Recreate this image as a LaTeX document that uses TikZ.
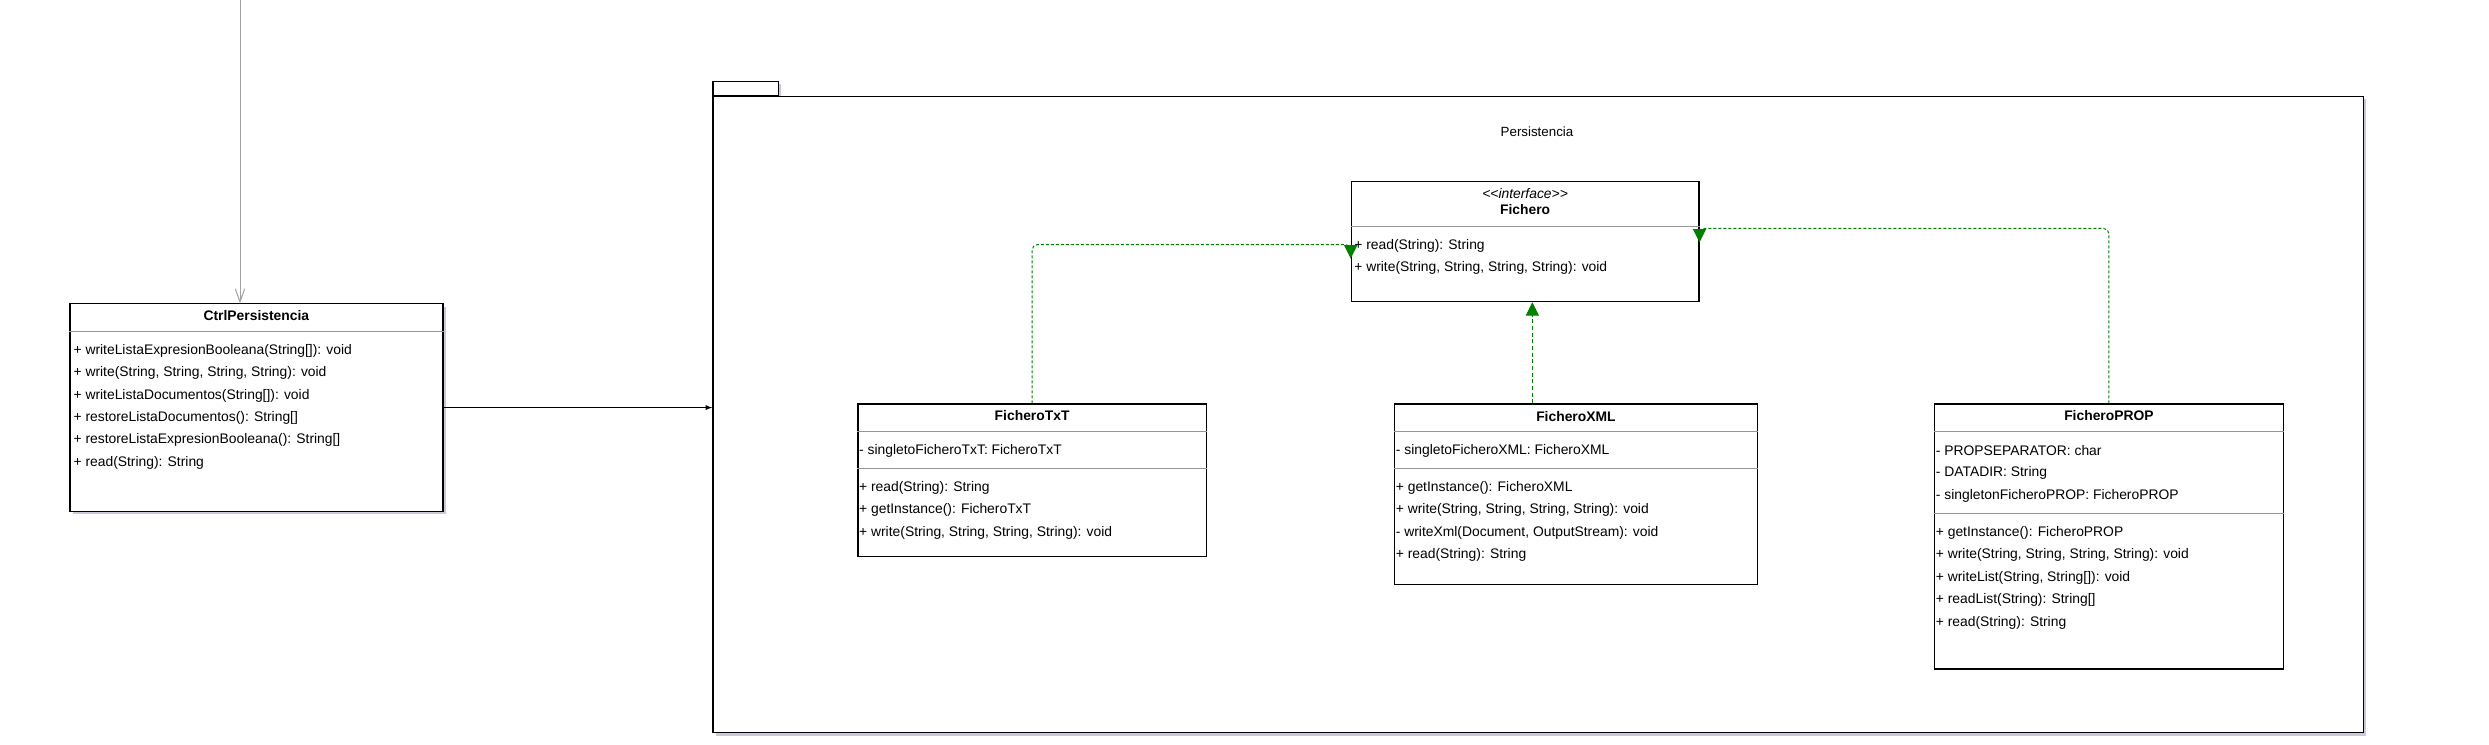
\documentclass[tikz,border=0pt]{standalone}
\usepackage{fontspec}
\setmainfont{Liberation Sans}
\usetikzlibrary{arrows.meta,shadows}

\definecolor{implgreen}{RGB}{0,128,0}
\definecolor{sepgrey}{RGB}{150,150,150}
\definecolor{assocgrey}{RGB}{160,160,160}
\definecolor{shadowblue}{RGB}{200,201,218}

\tikzset{
  classbox/.style={draw, line width=0.9pt, fill=white, anchor=north west, inner sep=0pt},
  boxshadow/.style={drop shadow={shadow xshift=2pt, shadow yshift=-2pt, fill=shadowblue, opacity=1}},
  classname/.style={inner sep=0pt, font=\bfseries\fontsize{10.4}{12}\selectfont},
  stereo/.style={inner sep=0pt, font=\itshape\fontsize{10.4}{12}\selectfont},
  member/.style={anchor=west, inner sep=0pt, font=\fontsize{10.4}{12}\selectfont},
  sepline/.style={draw=sepgrey, line width=0.75pt},
  realize/.style={draw=implgreen, line width=0.75pt, dash pattern=on 2.25pt off 1.5pt,
    -{Triangle[length=10pt, width=9.75pt]}}
}

\begin{document}
\begin{tikzpicture}[x=0.75pt, y=-0.75pt]
  \useasboundingbox (0,0) rectangle (2489,745);

  % package
  \node[classbox, boxshadow, anchor=south west, minimum width=49pt, minimum height=10.3pt] (pkgtab) at (712.3,96) {};
  \node[classbox, boxshadow, minimum width=1237.8pt, minimum height=477.2pt] (pkg) at (712.3,96) {};
  \node[member, anchor=center, font=\fontsize{10}{12}\selectfont] (pkgname) at (1537,132) {Persistencia};

  % CtrlPersistencia
  \node[classbox, boxshadow, minimum width=279.75pt, minimum height=155.5pt] (ctrl) at (69.3,303.3) {};
  \node[classname] (ctrlname) at ([yshift=-9.4pt]ctrl.north) {CtrlPersistencia};
  \draw[sepline] ([yshift=-21pt]ctrl.north west) -- ([yshift=-21pt]ctrl.north east);
  \foreach \m [count=\i] in {{+ writeListaExpresionBooleana(String[]): void},
      {+ write(String, String, String, String): void}, {+ writeListaDocumentos(String[]): void},
      {+ restoreListaDocumentos(): String[]}, {+ restoreListaExpresionBooleana(): String[]},
      {+ read(String): String}}
    \node[member] (ctrlm\i) at ([xshift=3pt, yshift={-35.55pt-16.8pt*(\i-1)}]ctrl.north west) {\m};

  % Fichero
  \node[classbox, minimum width=260.7pt, minimum height=89.8pt] (fich) at (1350.7,181.3) {};
  \node[stereo] (fichst) at ([yshift=-9pt]fich.north) {<\kern0pt<interface>\kern0pt>};
  \node[classname] (fichname) at ([yshift=-21.5pt]fich.north) {Fichero};
  \draw[sepline] ([yshift=-33.75pt]fich.north west) -- ([yshift=-33.75pt]fich.north east);
  \foreach \m [count=\i] in {{+ read(String): String}, {+ write(String, String, String, String): void}}
    \node[member] (fichm\i) at ([xshift=2.5pt, yshift={-48.5pt-16.2pt*(\i-1)}]fich.north west) {\m};

  % FicheroTxT
  \node[classbox, minimum width=261.3pt, minimum height=114.5pt] (txt) at (857.3,403.3) {};
  \node[classname] (txtname) at ([yshift=-9.2pt]txt.north) {FicheroTxT};
  \draw[sepline] ([yshift=-21.3pt]txt.north west) -- ([yshift=-21.3pt]txt.north east);
  \draw[sepline] ([yshift=-49pt]txt.north west) -- ([yshift=-49pt]txt.north east);
  \node[member] (txta1) at ([xshift=1.2pt, yshift=-35.55pt]txt.north west) {- singletoFicheroTxT: FicheroTxT};
  \foreach \m [count=\i] in {{+ read(String): String}, {+ getInstance(): FicheroTxT},
      {+ write(String, String, String, String): void}}
    \node[member] (txtm\i) at ([xshift=1.2pt, yshift={-63.3pt-16.85pt*(\i-1)}]txt.north west) {\m};

  % FicheroXML
  \node[classbox, minimum width=272pt, minimum height=135.5pt] (xml) at (1394,403.3) {};
  \node[classname] (xmlname) at ([yshift=-9.6pt]xml.north) {FicheroXML};
  \draw[sepline] ([yshift=-21.3pt]xml.north west) -- ([yshift=-21.3pt]xml.north east);
  \draw[sepline] ([yshift=-48.75pt]xml.north west) -- ([yshift=-48.75pt]xml.north east);
  \node[member] (xmla1) at ([xshift=1.2pt, yshift=-35.7pt]xml.north west) {- singletoFicheroXML: FicheroXML};
  \foreach \m [count=\i] in {{+ getInstance(): FicheroXML}, {+ write(String, String, String, String): void},
      {- writeXml(Document, OutputStream): void}, {+ read(String): String}}
    \node[member] (xmlm\i) at ([xshift=1.2pt, yshift={-63.3pt-16.85pt*(\i-1)}]xml.north west) {\m};

  % FicheroPROP
  \node[classbox, minimum width=261.5pt, minimum height=198.75pt] (prop) at (1934,403.3) {};
  \node[classname] (propname) at ([yshift=-9.2pt]prop.north) {FicheroPROP};
  \draw[sepline] ([yshift=-21.3pt]prop.north west) -- ([yshift=-21.3pt]prop.north east);
  \draw[sepline] ([yshift=-82.5pt]prop.north west) -- ([yshift=-82.5pt]prop.north east);
  \foreach \m [count=\i] in {{- PROPSEPARATOR: char}, {- DATADIR: String},
      {- singletonFicheroPROP: FicheroPROP}}
    \node[member] (propa\i) at ([xshift=1.2pt, yshift={-35.55pt-16.9pt*(\i-1)}]prop.north west) {\m};
  \foreach \m [count=\i] in {{+ getInstance(): FicheroPROP}, {+ write(String, String, String, String): void},
      {+ writeList(String, String[]): void}, {+ readList(String): String[]}, {+ read(String): String}}
    \node[member] (propm\i) at ([xshift=1.2pt, yshift={-97pt-16.9pt*(\i-1)}]prop.north west) {\m};

  % associations
  \coordinate (topend) at (240,0);
  \draw[assocgrey, line width=0.75pt, -{Straight Barb[length=9.75pt, width=7pt]}] (topend) -- (topend |- ctrl.north);
  \draw[line width=0.75pt, -latex] (ctrl.east) -- (ctrl.east -| pkg.west);

  % realizations of Fichero
  \draw[realize] (txt.north) [rounded corners=4pt] |- ([yshift=-2.1pt]fich.west) [sharp corners] -- ++(0,14);
  \draw[realize] (prop.north) [rounded corners=4pt] |- ([yshift=10pt]fich.east) [sharp corners] -- ++(0,14);
  \coordinate (xmlfoot) at ([xshift=-32.7pt]xml.north);
  \draw[realize, line width=0.6pt, dash pattern=on 3pt off 2pt] (xmlfoot) -- (xmlfoot |- fich.south);
\end{tikzpicture}
\end{document}
